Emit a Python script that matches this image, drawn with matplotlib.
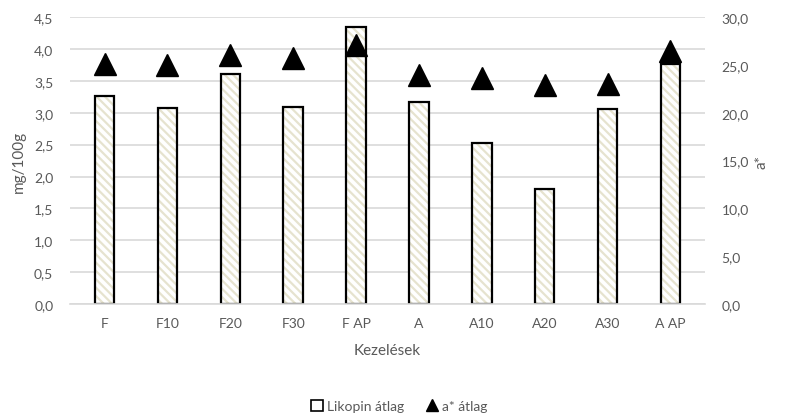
import matplotlib
matplotlib.use("Agg")
from matplotlib import pyplot as plt
from matplotlib.lines import Line2D
from matplotlib.patches import Patch

kezelesek = ["F", "F10", "F20", "F30", "F AP", "A", "A10", "A20", "A30", "A AP"]
likopin = [3.26, 3.07, 3.61, 3.09, 4.34, 3.17, 2.52, 1.80, 3.06, 3.76]
a_csillag = [25.1, 25.0, 26.0, 25.7, 27.1, 23.9, 23.6, 22.9, 23.0, 26.4]

bal_tickek = [i * 0.5 for i in range(10)]
jobb_tickek = [i * 5.0 for i in range(7)]

plt.rcParams["font.family"] = ["Lato", "DejaVu Sans"]
plt.rcParams["hatch.linewidth"] = 1.6

szurke = "#595959"
racs = "#d9d9d9"
csik = "#e6e3cf"

fig = plt.figure(figsize=(7.98, 4.14), dpi=100)
ax = fig.add_axes([0.0877, 0.263, 0.7958, 0.6935])
ax2 = ax.twinx()

x = list(range(len(kezelesek)))
# hatched fill first, then the black outline on top
ax.bar(x, likopin, width=0.31, color="white", edgecolor=csik,
       linewidth=0, hatch="\\\\\\\\", zorder=2)
ax.bar(x, likopin, width=0.31, fill=False, edgecolor="black",
       linewidth=1.6, zorder=2.5)
ax2.plot(x, a_csillag, marker="^", linestyle="", color="black",
         markersize=16, zorder=3)

ax.set_ylim(0, 4.5)
ax2.set_ylim(0, 30)
ax.set_xlim(-0.55, len(kezelesek) - 0.45)
ax.set_yticks(bal_tickek)
ax.set_yticklabels([f"{v:.1f}".replace(".", ",") for v in bal_tickek])
ax2.set_yticks(jobb_tickek)
ax2.set_yticklabels([f"{v:.1f}".replace(".", ",") for v in jobb_tickek])
ax.set_xticks(x)
ax.set_xticklabels(kezelesek)

ax.grid(axis="y", color=racs, linewidth=1.2, zorder=0)
ax.set_axisbelow(True)
for a in (ax, ax2):
    for s in a.spines.values():
        s.set_visible(False)
    a.tick_params(length=0, colors=szurke, labelsize=10)
ax.spines["bottom"].set_visible(True)
ax.spines["bottom"].set_color(racs)
ax.spines["bottom"].set_linewidth(1.2)
ax.tick_params(axis="x", pad=9)
ax.tick_params(axis="y", pad=12)
ax2.tick_params(axis="y", pad=12)

ax.set_xlabel("Kezelések", color=szurke, fontsize=11, labelpad=10)
ax.set_ylabel("mg/100g", color=szurke, fontsize=11, labelpad=6)
ax2.set_ylabel("a*", color=szurke, fontsize=11, labelpad=4)

# ax2 on top of ax, so triangles lie over the bars
ax2.set_zorder(ax.get_zorder() + 1)

kezelok = [Patch(facecolor="white", edgecolor="black", linewidth=1.2),
           Line2D([], [], marker="^", linestyle="", color="black", markersize=9)]
fig.legend(kezelok, ["Likopin átlag", "a* átlag"], loc="center",
           bbox_to_anchor=(0.5, 0.017), ncol=2, frameon=False, fontsize=10,
           labelcolor=szurke, handlelength=0.9, handleheight=0.9,
           handletextpad=0.3, columnspacing=1.5)

fig.savefig("out.png", dpi=100)
